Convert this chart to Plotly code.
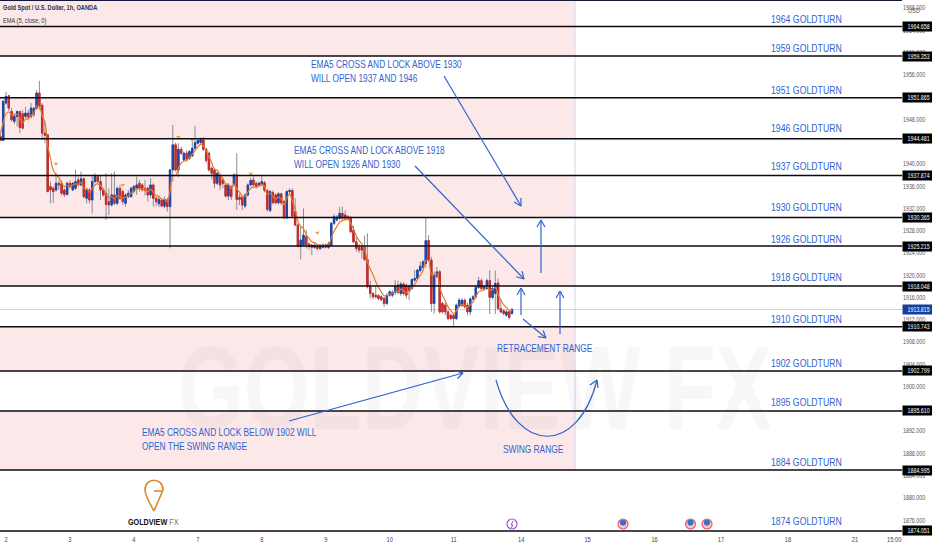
import plotly.graph_objects as go

# ---------- data ----------
first_index = -2
opens = [1944.9,1944.2,1950.9,1952.2,1949.4,1947.6,1948.5,1949.4,1949.0,1948.5,1949.1,1948.5,1948.9,1950.0,1952.7,1950.5,1945.5,1945.2,1935.9,1935.6,1935.3,1936.5,1936.5,
         1935.3,1934.5,1936.5,1935.3,1935.6,1937.1,1936.2,1937.3,1933.8,1935.3,1933.5,1936.8,1937.7,1936.8,1935.3,1934.7,1933.2,1932.6,1934.4,1932.9,1935.6,1935.0,1932.9,1934.1,
         1934.1,1935.0,1935.6,1936.5,1936.2,1935.6,1935.6,1934.4,1936.2,1933.8,1932.8,1933.5,1932.4,1933.5,1932.3,1938.9,1943.4,1938.9,1942.6,1940.7,1941.9,1941.0,1941.4,1942.8,
         1943.7,1943.8,1944.3,1942.6,1941.9,1939.2,1938.9,1936.5,1937.7,1937.1,1936.2,1934.2,1935.9,1936.2,1938.0,1934.0,1934.0,1932.4,1934.4,1936.2,1937.1,1936.5,
         1936.2,1936.2,1936.6,1935.2,1931.6,1934.8,1934.4,1933.0,1934.6,1933.2,1930.3,1935.0,1935.2,1931.4,1929.0,1925.2,1925.4,1926.9,1925.6,1925.4,1925.0,1925.2,1924.8,1925.0,1925.4,1925.0,
         1925.4,1929.3,1929.9,1930.2,1931.1,1930.8,1930.5,1930.3,1928.1,1926.0,1925.0,1925.0,1925.0,1922.8,1917.9,1916.7,1916.4,1916.3,1916.1,1915.8,1914.9,1916.4,
         1916.4,1916.9,1918.2,1916.7,1918.4,1918.2,1918.0,1917.6,1919.1,1919.4,1920.8,1921.4,1922.1,1926.2,1922.7,1914.9,1919.8,1920.6,1914.9,1914.6,1913.4,1912.8,1912.8,
         1912.2,1914.5,1914.6,1915.5,1914.6,1913.4,1915.7,1916.1,1917.8,1919.0,1917.5,1917.6,1919.0,1916.0,1916.7,1918.6,1914.0,1913.6,1912.8,1913.4,1913.1]
highs = [1945.5,1951.5,1952.9,1952.4,1950.0,1949.1,1949.5,1949.5,1949.7,1950.2,1949.7,1950.9,1950.2,1953.2,1954.9,1950.9,1947.5,1945.3,1936.8,1935.9,1938.3,1937.0,1937.0,
         1935.6,1936.8,1937.0,1936.7,1938.9,1937.7,1938.6,1937.5,1935.5,1935.6,1938.0,1938.3,1938.0,1938.0,1935.6,1938.3,1935.6,1938.3,1938.6,1935.9,1936.2,1935.3,1934.7,1935.3,
         1935.9,1936.2,1937.7,1937.1,1936.5,1937.1,1935.9,1937.4,1936.5,1934.1,1934.3,1933.8,1934.1,1933.9,1939.0,1947.0,1943.8,1943.7,1943.1,1942.2,1942.4,1942.5,1944.3,1946.8,
         1944.5,1944.7,1944.8,1942.9,1942.2,1939.5,1939.2,1938.6,1938.0,1937.4,1936.5,1936.5,1936.2,1938.3,1941.9,1934.6,1934.3,1934.7,1936.5,1937.5,1937.7,1936.8,
         1936.8,1938.0,1936.9,1935.5,1935.3,1935.2,1934.7,1934.9,1934.8,1933.5,1935.3,1935.6,1935.6,1933.8,1929.3,1928.7,1932.0,1928.1,1925.9,1925.7,1925.7,1925.5,1925.5,1925.7,1925.7,1926.0,
         1929.6,1931.0,1930.8,1932.2,1932.3,1931.6,1930.8,1930.6,1928.9,1926.9,1925.6,1925.3,1927.1,1927.5,1919.0,1917.0,1918.0,1916.6,1916.4,1916.1,1916.7,1917.3,
         1917.3,1919.1,1919.0,1918.8,1918.7,1918.5,1918.3,1919.4,1920.9,1921.2,1922.4,1922.7,1930.2,1927.2,1923.3,1920.6,1921.5,1920.9,1915.2,1915.1,1913.7,1913.1,1913.1,
         1914.9,1915.9,1915.8,1915.8,1915.0,1916.0,1916.4,1918.1,1919.7,1919.4,1918.2,1919.4,1920.9,1917.9,1920.8,1919.4,1915.8,1913.9,1913.7,1913.7,1914.1]
lows = [1944.1,1944.1,1950.6,1949.5,1947.6,1947.1,1946.7,1945.5,1946.2,1948.0,1947.9,1948.1,1948.4,1949.7,1949.7,1944.3,1943.7,1934.9,1932.9,1933.0,1935.0,1935.3,1934.3,
        1934.0,1934.3,1935.6,1935.1,1935.3,1935.9,1936.0,1933.8,1932.9,1932.9,1931.1,1936.5,1936.5,1933.5,1934.1,1929.9,1930.8,1932.3,1932.6,1932.6,1933.5,1932.6,1932.3,1933.8,
        1933.9,1934.7,1934.4,1935.0,1935.0,1934.3,1933.2,1933.8,1932.3,1932.4,1932.2,1932.2,1932.0,1931.4,1924.8,1936.8,1938.6,1937.6,1941.6,1940.4,1940.4,1940.7,1941.2,1942.5,
        1943.4,1943.5,1942.3,1940.2,1938.6,1937.2,1935.6,1936.2,1935.3,1935.6,1933.9,1933.5,1933.5,1935.9,1931.7,1932.6,1931.7,1932.0,1934.1,1935.9,1935.9,1935.6,
        1935.9,1936.0,1934.9,1931.4,1931.3,1932.7,1932.7,1932.7,1932.6,1930.1,1930.1,1934.4,1930.4,1928.8,1925.0,1922.8,1925.1,1924.8,1924.6,1923.6,1924.7,1924.4,1924.5,1924.8,1924.8,1924.7,
        1925.1,1929.0,1929.6,1929.9,1929.9,1929.9,1929.9,1927.5,1925.7,1924.2,1924.0,1923.0,1922.5,1917.6,1915.8,1915.6,1915.8,1915.5,1915.3,1914.3,1914.6,1916.1,
        1916.0,1916.4,1916.6,1916.3,1916.3,1915.8,1915.5,1917.4,1918.8,1919.1,1920.5,1921.1,1921.4,1922.4,1913.4,1913.1,1919.5,1913.1,1913.1,1912.8,1911.9,1911.9,1910.9,
        1911.9,1914.2,1914.3,1914.0,1912.8,1912.8,1915.4,1915.8,1917.5,1917.3,1917.2,1917.3,1913.0,1915.7,1913.0,1913.7,1913.1,1912.8,1912.5,1912.0,1912.9]
closes = [1944.2,1951.2,1952.1,1950.0,1947.9,1948.5,1949.4,1946.5,1946.4,1949.1,1948.4,1950.0,1950.0,1952.7,1950.3,1945.5,1945.1,1935.0,1935.3,1935.0,1936.5,1936.2,1934.7,
          1934.5,1936.5,1935.9,1936.5,1936.8,1936.2,1937.3,1934.1,1935.3,1933.5,1936.8,1937.7,1936.8,1935.3,1934.4,1932.7,1932.6,1934.4,1932.9,1935.6,1933.8,1933.2,1934.4,1934.7,
          1935.6,1935.9,1936.2,1935.6,1935.3,1935.2,1934.4,1936.2,1933.8,1933.2,1933.6,1932.4,1933.6,1932.3,1938.9,1943.4,1938.9,1942.6,1941.9,1941.9,1940.8,1942.2,1942.8,1943.8,
          1944.2,1944.3,1942.6,1940.6,1938.9,1938.3,1936.5,1938.3,1936.2,1936.5,1934.2,1936.2,1934.1,1938.0,1933.6,1933.6,1932.6,1934.4,1936.2,1937.0,1936.2,1935.9,
          1936.5,1936.8,1935.2,1931.8,1935.0,1933.0,1933.0,1934.6,1933.0,1930.3,1935.0,1935.2,1930.6,1929.0,1925.2,1926.3,1927.2,1925.4,1925.1,1925.0,1925.4,1924.8,1925.2,1925.4,1925.0,1925.6,
          1929.3,1930.5,1930.4,1931.1,1930.2,1930.2,1930.2,1927.8,1926.0,1924.8,1924.5,1924.5,1922.8,1917.9,1916.7,1916.1,1916.1,1915.8,1915.6,1914.9,1916.4,1917.0,
          1916.9,1918.0,1916.9,1918.4,1916.7,1916.4,1917.3,1919.2,1919.4,1920.9,1921.6,1922.4,1926.2,1922.7,1914.9,1920.0,1920.6,1913.4,1913.4,1913.4,1912.2,1912.2,1912.2,
          1914.6,1915.5,1915.5,1914.3,1913.4,1915.7,1916.1,1917.8,1919.0,1917.6,1917.9,1919.0,1916.0,1917.6,1918.5,1914.0,1913.4,1913.1,1913.4,1912.4,1913.8]
ema5 = [1945.5,1947.4,1949.0,1949.3,1948.8,1948.7,1948.9,1948.1,1947.4,1948.0,1948.1,1948.7,1949.1,1950.3,1950.3,1948.7,1947.5,1943.3,1941.0,1938.9,1938.1,1937.5,1936.6,
        1935.9,1936.1,1936.0,1936.2,1936.4,1936.3,1936.6,1935.7,1935.6,1934.9,1935.5,1936.2,1936.4,1936.1,1935.5,1934.6,1933.9,1934.1,1933.7,1934.3,1934.1,1933.8,1934.0,1934.3,
        1934.7,1935.1,1935.5,1935.5,1935.5,1935.4,1935.0,1935.4,1934.9,1934.3,1934.1,1933.6,1933.6,1933.2,1935.1,1937.9,1937.9,1939.2,1940.1,1940.5,1940.6,1941.2,1941.7,1942.4,
        1943.0,1943.5,1943.2,1942.3,1941.2,1940.2,1939.0,1938.9,1938.0,1937.4,1936.4,1936.3,1935.6,1936.4,1935.5,1934.9,1934.1,1934.2,1934.9,1935.6,1935.8,1935.8,
        1936.0,1936.3,1935.9,1934.5,1934.7,1934.1,1933.7,1934.0,1933.7,1932.6,1933.8,1934.6,1933.3,1931.9,1929.7,1928.8,1928.3,1927.3,1926.6,1926.0,1925.8,1925.5,1925.4,1925.4,1925.3,1925.4,
        1926.7,1927.9,1928.7,1929.5,1929.8,1929.9,1930.0,1929.3,1928.2,1927.1,1926.2,1925.6,1924.7,1922.4,1921.1,1920.1,1918.8,1917.8,1917.0,1916.3,1916.3,1916.6,
        1916.7,1917.1,1917.0,1917.5,1917.2,1916.9,1917.0,1917.7,1918.3,1919.2,1920.0,1920.8,1922.6,1922.6,1920.1,1920.0,1920.2,1917.9,1916.4,1915.4,1914.3,1913.6,1913.1,
        1913.6,1914.3,1914.7,1914.6,1914.2,1914.7,1915.2,1916.1,1917.0,1917.2,1917.4,1917.9,1917.3,1917.4,1917.8,1916.5,1915.5,1914.7,1914.2,1913.6,1913.7]
marker_index = [18, 42, 62, 67, 88, 112]
marker_price = [1940.0, 1936.2, 1944.8, 1944.3, 1938.2, 1927.6]

level_prices = [1964.658,1959.353,1951.865,1944.481,1937.874,1930.365,1925.215,1918.048,1910.743,1902.799,1895.610,1884.995,1874.051]
last_price = 1913.815
turn_labels = ["1964 GOLDTURN","1959 GOLDTURN","1951 GOLDTURN","1946 GOLDTURN","1937 GOLDTURN","1930 GOLDTURN","1926 GOLDTURN",
               "1918 GOLDTURN","1910 GOLDTURN","1902 GOLDTURN","1895 GOLDTURN","1884 GOLDTURN","1874 GOLDTURN"]
tick_index = [0,23,46,69,92,115,138,161,185.3,209.2,233.3,257.2,281.3,305.4,319.5]
tick_text = ["2","3","4","7","8","9","10","11","14","15","16","17","18","21","15:00"]

# ---------- layout helpers ----------
W, H, PW, PH = 932, 550, 902, 534
BLUE = "#2f63cf"
FONT = "Liberation Sans, Arial, sans-serif"
px = lambda v: v / PW
py = lambda v: 1 - v / PH
index = [first_index + k for k in range(len(opens))]

fig = go.Figure()
fig.add_trace(go.Candlestick(x=index, open=opens, high=highs, low=lows, close=closes, whiskerwidth=0,
    increasing=dict(line=dict(color="#878c94", width=1), fillcolor="#878c94"),
    decreasing=dict(line=dict(color="#878c94", width=1), fillcolor="#878c94"),
    hoverinfo="skip", showlegend=False))
body_high = [max(a, b) for a, b in zip(opens, closes)]
body_low = [min(a, b) for a, b in zip(opens, closes)]
fig.add_trace(go.Candlestick(x=index, open=opens, high=body_high, low=body_low, close=closes, whiskerwidth=0,
    increasing=dict(line=dict(color="#1c46a8", width=1), fillcolor="#1c46a8"),
    decreasing=dict(line=dict(color="#c92a2a", width=1), fillcolor="#c92a2a"),
    showlegend=False))
fig.add_trace(go.Scatter(x=index, y=ema5, mode="lines", line=dict(color="#e8792b", width=1.2, shape="spline"), showlegend=False))
fig.add_trace(go.Scatter(x=marker_index, y=marker_price, mode="markers",
    marker=dict(symbol="triangle-down", size=4, color="#f0a23c"), showlegend=False))

shapes, anns = [], []
top_price = 1969.42
bands = [(top_price, level_prices[1]), (level_prices[2], level_prices[3]), (level_prices[4], level_prices[5]),
         (level_prices[6], level_prices[7]), (level_prices[8], level_prices[9]), (level_prices[10], level_prices[11])]
for a, b in bands:
    shapes.append(dict(type="rect", xref="paper", yref="y", x0=0, x1=px(575), y0=b, y1=a,
                       fillcolor="#fde8e9", line_width=0, layer="below"))
shapes.append(dict(type="line", xref="paper", yref="paper", x0=px(575), x1=px(575), y0=py(470), y1=1,
                   line=dict(color="#cfd8ee", width=1), layer="below"))
shapes.append(dict(type="line", xref="paper", yref="paper", x0=0, x1=1, y0=1, y1=1, line=dict(color="#11183a", width=2)))
for p in level_prices:
    shapes.append(dict(type="line", xref="paper", yref="y", x0=0, x1=1, y0=p, y1=p, line=dict(color="#0b0b0f", width=1.5)))
shapes.append(dict(type="line", xref="paper", yref="y", x0=0, x1=1, y0=last_price, y1=last_price,
                   line=dict(color="#c6d2ee", width=1), layer="below"))

def seg(x0, y0, x1, y1, color=BLUE, w=1.2):
    shapes.append(dict(type="line", xref="paper", yref="paper", x0=px(x0), x1=px(x1), y0=py(y0), y1=py(y1),
                       line=dict(color=color, width=w)))

def arrow(x0, y0, x1, y1, head=8):
    seg(x0, y0, x1, y1)
    d = ((x1 - x0) ** 2 + (y1 - y0) ** 2) ** 0.5
    ux, uy = (x1 - x0) / d, (y1 - y0) / d
    for s in (1, -1):
        hx = x1 - head * (ux * 0.87 - s * uy * 0.5)
        hy = y1 - head * (uy * 0.87 + s * ux * 0.5)
        seg(x1, y1, hx, hy)

arrow(444, 76, 521, 206)
arrow(415, 166, 524, 279)
arrow(521, 315, 521, 288)
arrow(541, 273, 541, 220)
arrow(560, 334, 560, 291)
arrow(523, 319, 546, 338)
arrow(289, 421, 463, 373)
curve = "M {},{} C {},{} {},{} {},{}".format(px(496), py(380), px(517), py(455), px(578), py(455), px(597), py(380))
shapes.append(dict(type="path", xref="paper", yref="paper", path=curve, line=dict(color=BLUE, width=1.2)))
seg(597, 380, 590, 385); seg(597, 380, 598, 388)

pin = "M {},{} C {},{} {},{} {},{} C {},{} {},{} {},{}".format(
    px(154), py(511), px(146), py(497), px(145), py(492), px(145), py(490),
    px(145), py(477), px(163), py(477), px(163), py(490))
shapes.append(dict(type="path", xref="paper", yref="paper", path=pin, line=dict(color="#d98a2e", width=1.6)))
seg(163, 490, 154, 511, "#d98a2e", 1.6)
seg(154, 491, 163, 491, "#d98a2e", 1.6)

def circle(cx, cy, r, fill, line):
    shapes.append(dict(type="circle", xref="paper", yref="paper", x0=px(cx - r), x1=px(cx + r), y0=py(cy + r), y1=py(cy - r),
                       fillcolor=fill, line=dict(color=line, width=1.2)))
circle(512, 524, 5, "#ffffff", "#a84fc9")
seg(513, 521, 511, 525, "#a84fc9", 1); seg(511, 525, 513, 525, "#a84fc9", 1); seg(513, 525, 511, 528, "#a84fc9", 1)
for cx in (623, 690.5, 707):
    circle(cx, 524, 5, "#f6c9c9", "#e4606a")
    circle(cx, 522.5, 2.5, "#3b6fc4", "#3b6fc4")

def text(x, y, s, size=11, color=BLUE, family=FONT, anchor="left"):
    anns.append(dict(xref="paper", yref="paper", x=px(x), y=py(y), text=s, showarrow=False, xanchor=anchor, yanchor="middle",
                     align="left", font=dict(size=size, color=color, family=family)))

turn_y = [19, 48, 90, 128, 166, 207, 239, 277, 319, 363, 402, 462, 521]
for s, y in zip(turn_labels, turn_y):
    text(769, y, s, size=11.5)
text(309, 71, "EMA5 CROSS AND LOCK ABOVE 1930<br>WILL OPEN 1937 AND 1946", size=11)
text(292, 157, "EMA5 CROSS AND LOCK ABOVE 1918<br>WILL OPEN 1926 AND 1930", size=11)
text(140, 439, "EMA5 CROSS AND LOCK BELOW 1902 WILL<br>OPEN THE SWING RANGE", size=11)
text(495, 348, "RETRACEMENT RANGE", size=11)
text(501, 449, "SWING RANGE", size=11)
text(1, 7, "<b>Gold Spot / U.S. Dollar, 1h, OANDA</b>", size=7.5, color="#333333")
text(1, 21, "EMA (5, close, 0)", size=7.5, color="#333333")
text(126, 521, "<b>GOLDVIEW</b> <span style='color:#777777'>FX</span>", size=9.5, color="#111111")
text(475, 388, "<b>GOLDVIEW FX</b>", size=118, color="rgba(60,60,70,0.04)", anchor="center")
text(906, 10, "USD", size=7.5, color="#555555")

for p in level_prices:
    anns.append(dict(xref="paper", yref="y", x=1, y=p, text=f"{p:.3f}", showarrow=False, xanchor="left", yanchor="middle",
                     bgcolor="#000000", borderpad=1, font=dict(size=7, color="#ffffff", family=FONT)))
anns.append(dict(xref="paper", yref="y", x=1, y=last_price, text=f"{last_price:.3f}", showarrow=False, xanchor="left", yanchor="middle",
                 bgcolor="#173f9a", borderpad=1, font=dict(size=7, color="#ffffff", family=FONT)))

fig.update_layout(
    width=W, height=H, margin=dict(l=0, r=W - PW, t=0, b=H - PH, autoexpand=False),
    paper_bgcolor="#ffffff", plot_bgcolor="#ffffff", showlegend=False,
    shapes=shapes, annotations=anns,
    xaxis=dict(range=[-2.16, 322.3], tickmode="array", tickvals=tick_index, ticktext=tick_text, showgrid=False, zeroline=False,
               ticks="", showline=False, rangeslider=dict(visible=False), tickfont=dict(size=7.5, color="#444444", family=FONT)),
    yaxis=dict(range=[1873.5, top_price], side="right", dtick=4, tick0=1876, tickformat=".3f", showgrid=False, zeroline=False,
               ticks="", showline=False, tickfont=dict(size=7, color="#555555", family=FONT)),
)

# the reference uses a condensed face; none is installed, so the real text is narrowed horizontally
post = """
document.body.style.margin='0';
document.documentElement.style.overflow='hidden';
var gd=document.getElementById('{plot_id}');
function narrow(){
  gd.querySelectorAll('.annotation-text, .xtick text, .ytick text').forEach(function(t){
    if(t.getAttribute('data-narrow')) return;
    var b=t.getBBox(); if(!b.width) return;
    var big=b.height>50, k=big?0.72:0.76;
    var isTag=t.closest('.annotation') && t.style.fill==='rgb(255, 255, 255)';
    var isX=t.closest('.xtick');
    var p=(big||isTag||isX)?b.x+b.width/2:b.x;
    var old=t.getAttribute('transform')||'';
    t.setAttribute('transform',old+' translate('+p+' 0) scale('+k+' 1) translate('+(-p)+' 0)');
    t.setAttribute('data-narrow','1');
  });
}
narrow(); setTimeout(narrow,0); setTimeout(narrow,100);
"""
fig.write_html("out.html", post_script=post, config=dict(displayModeBar=False))
